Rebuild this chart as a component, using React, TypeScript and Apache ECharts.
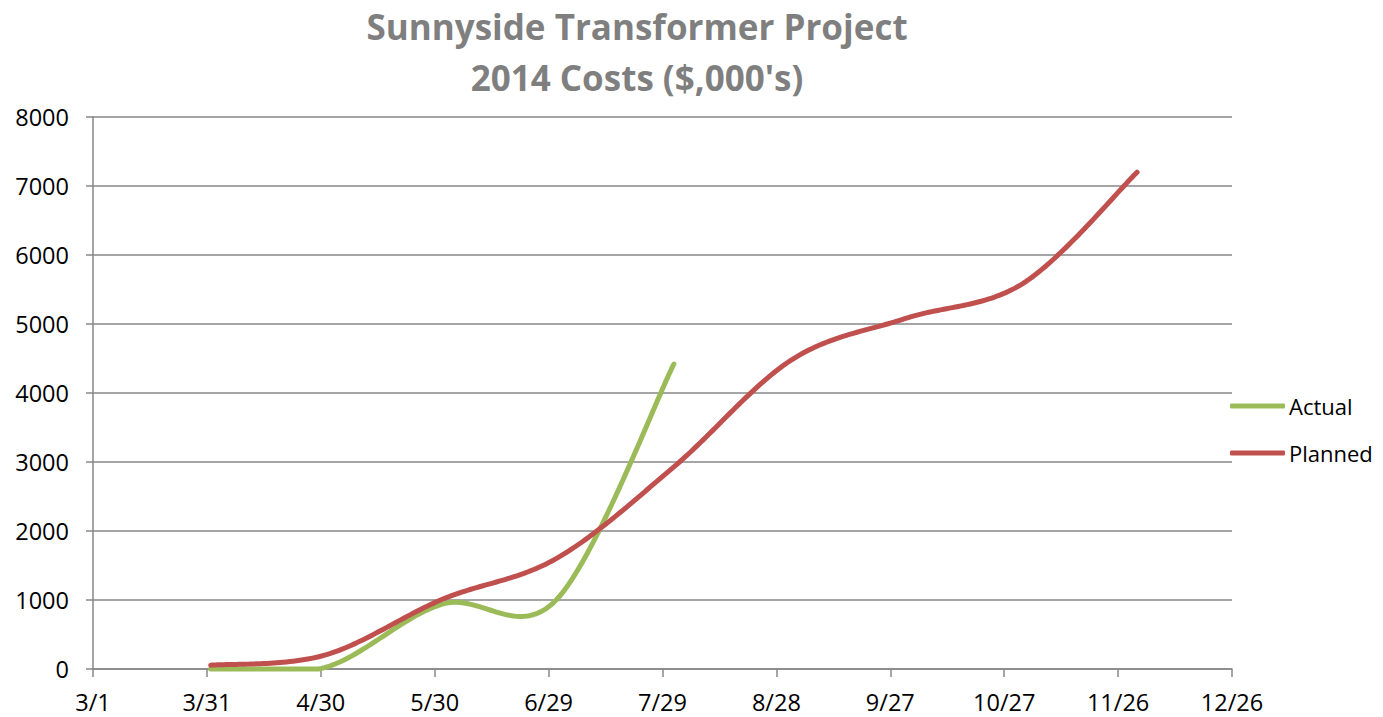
import React, { useEffect, useRef } from "react";
import * as echarts from "echarts";

const TITLE_LINES = ["Sunnyside Transformer Project", "2014 Costs ($,000's)"];
const START_DATE = "2014-03-01";
const X_MAX_DAYS = 300;
const X_STEP_DAYS = 30;
const Y_MIN = 0;
const Y_MAX = 8000;
const Y_STEP = 1000;

const actualDates = ["2014-04-01", "2014-05-01", "2014-06-01", "2014-07-01", "2014-08-01"];
const actualValues = [0, 20, 940, 1000, 4420];

const plannedDates = [
  "2014-04-01", "2014-05-01", "2014-06-01", "2014-07-01", "2014-08-01",
  "2014-09-01", "2014-10-01", "2014-11-01", "2014-12-01",
];
const plannedValues = [55, 200, 1010, 1600, 2930, 4480, 5080, 5590, 7200];

const DAY = 86400000;
const startMs = Date.parse(START_DATE + "T00:00:00Z");
const toDay = (d: string) => Math.round((Date.parse(d + "T00:00:00Z") - startMs) / DAY);
const fmtDay = (v: number) => {
  const dt = new Date(startMs + v * DAY);
  return `${dt.getUTCMonth() + 1}/${dt.getUTCDate()}`;
};

const FONT = "'Open Sans', 'Liberation Sans', sans-serif";
const GRID = "#878787";
const GREEN = "#9BBB59";
const RED = "#C0504D";

// Excel-like smoothed line (Catmull-Rom style Bezier) computed in pixel space via the axes,
// sampled into a polyline and kept inside the plot floor (like Excel's plot-area clipping).
function makeSmoothSeries(name: string, dates: string[], values: number[], color: string, z: number) {
  const pts = dates.map((d, i) => [toDay(d), values[i]]);
  return {
    name,
    type: "custom",
    coordinateSystem: "cartesian2d",
    itemStyle: { color },
    encode: { x: 0, y: 1 },
    data: pts,
    z,
    clip: false,
    renderItem: (params: any, api: any) => {
      if (params.dataIndex !== 0) return null;
      const p = pts.map((q) => api.coord(q));
      const yFloor = api.coord([0, Y_MIN])[1];
      const n = p.length;
      const out: number[][] = [[p[0][0], Math.min(p[0][1], yFloor)]];
      const STEPS = 40;
      for (let i = 0; i < n - 1; i++) {
        const p0 = p[Math.max(0, i - 1)];
        const p1 = p[i];
        const p2 = p[i + 1];
        const p3 = p[Math.min(n - 1, i + 2)];
        const c1 = [p1[0] + (p2[0] - p0[0]) / 6, p1[1] + (p2[1] - p0[1]) / 6];
        const c2 = [p2[0] - (p3[0] - p1[0]) / 6, p2[1] - (p3[1] - p1[1]) / 6];
        for (let s = 1; s <= STEPS; s++) {
          const t = s / STEPS;
          const u = 1 - t;
          const a = u * u * u, b = 3 * u * u * t, c = 3 * u * t * t, e = t * t * t;
          const x = a * p1[0] + b * c1[0] + c * c2[0] + e * p2[0];
          const y = a * p1[1] + b * c1[1] + c * c2[1] + e * p2[1];
          out.push([x, Math.min(y, yFloor)]);
        }
      }
      return {
        type: "polyline",
        shape: { points: out },
        style: { fill: "none", stroke: color, lineWidth: 5, lineCap: "round", lineJoin: "round" },
      };
    },
  };
}

export default function App() {
  const ref = useRef<HTMLDivElement>(null);
  useEffect(() => {
    if (!ref.current) return;
    const chart = echarts.init(ref.current, undefined, { renderer: "svg" });
    chart.setOption({
      animation: false,
      backgroundColor: "#ffffff",
      textStyle: { fontFamily: FONT },
      title: {
        text: TITLE_LINES.join("\n"),
        left: 632,
        textAlign: "center",
        top: -4,
        textStyle: {
          fontFamily: FONT,
          fontSize: 35,
          fontWeight: "bold",
          color: "#7f7f7f",
          lineHeight: 51,
        },
      },
      legend: {
        orient: "vertical",
        left: 1225,
        top: 390,
        itemWidth: 55,
        itemHeight: 5,
        itemGap: 25,
        textStyle: { fontFamily: FONT, fontSize: 22, color: "#000", padding: [0, 0, 0, -1] },
        data: [
          { name: "Actual", icon: "roundRect", itemStyle: { color: GREEN } },
          { name: "Planned", icon: "roundRect", itemStyle: { color: RED } },
        ],
      },
      grid: { left: 93, right: 151, top: 117, bottom: 48, containLabel: false },
      xAxis: {
        type: "value",
        min: 0,
        max: X_MAX_DAYS,
        interval: X_STEP_DAYS,
        axisLine: { show: true, lineStyle: { color: GRID, width: 1.5 } },
        axisTick: { show: true, length: 8, lineStyle: { color: GRID, width: 1.5 } },
        splitLine: { show: false },
        axisLabel: {
          formatter: (v: number) => fmtDay(v),
          fontFamily: FONT,
          fontSize: 23.5,
          color: "#000",
          margin: 21,
        },
      },
      yAxis: {
        type: "value",
        min: Y_MIN,
        max: Y_MAX,
        interval: Y_STEP,
        axisLine: { show: true, lineStyle: { color: GRID, width: 1.5 } },
        axisTick: { show: true, inside: false, length: 7, lineStyle: { color: GRID, width: 1.5 } },
        splitLine: { show: true, lineStyle: { color: GRID, width: 1.5 } },
        axisLabel: {
          formatter: (v: number) => String(v),
          fontFamily: FONT,
          fontSize: 23.5,
          color: "#000",
          margin: 24,
        },
      },
      series: [
        makeSmoothSeries("Actual", actualDates, actualValues, GREEN, 3),
        makeSmoothSeries("Planned", plannedDates, plannedValues, RED, 4),
      ],
    });
    return () => chart.dispose();
  }, []);
  return (
    <div
      ref={ref}
      style={{ position: "fixed", left: 0, top: 0, width: 1383, height: 717 }}
    />
  );
}
